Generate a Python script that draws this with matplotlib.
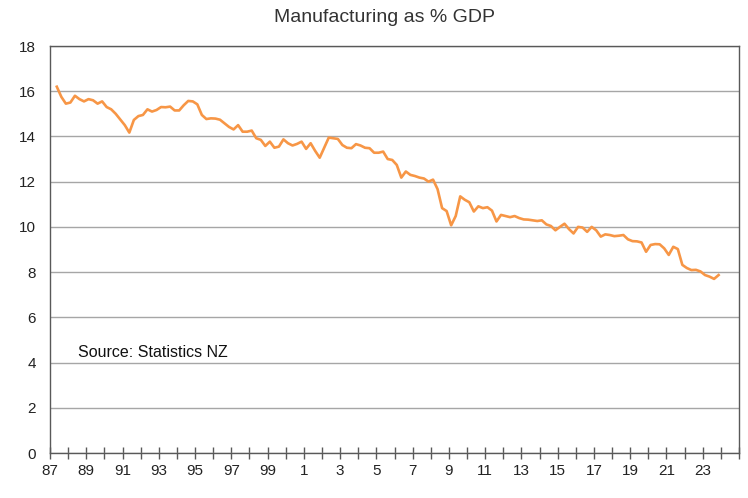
import numpy as np
import pandas as pd
import matplotlib.pyplot as plt

# quarterly manufacturing share of GDP (%), from 1987Q2
manuf_share = [
    16.2, 15.75, 15.45, 15.5, 15.8, 15.65, 15.55, 15.65, 15.6, 15.45,
    15.55, 15.3, 15.2, 15.0, 14.75, 14.5, 14.17, 14.73, 14.9, 14.95,
    15.2, 15.1, 15.17, 15.3, 15.29, 15.32, 15.15, 15.15, 15.38, 15.57,
    15.55, 15.42, 14.95, 14.77, 14.8, 14.79, 14.74, 14.58, 14.42, 14.31,
    14.5, 14.21, 14.21, 14.26, 13.92, 13.85, 13.58, 13.77, 13.5, 13.55,
    13.87, 13.7, 13.6, 13.67, 13.77, 13.45, 13.7, 13.36, 13.06, 13.5,
    13.95, 13.92, 13.89, 13.62, 13.5, 13.48, 13.66, 13.6, 13.5, 13.48,
    13.28, 13.28, 13.33, 13.0, 12.96, 12.74, 12.18, 12.45, 12.3, 12.25,
    12.18, 12.14, 12.0, 12.09, 11.67, 10.83, 10.7, 10.07, 10.48, 11.35,
    11.2, 11.09, 10.68, 10.91, 10.83, 10.87, 10.72, 10.24, 10.53, 10.48,
    10.43, 10.48, 10.39, 10.33, 10.32, 10.29, 10.26, 10.29, 10.11, 10.04,
    9.85, 10.0, 10.14, 9.9, 9.71, 10.0, 9.97, 9.78, 10.0, 9.85,
    9.57, 9.67, 9.64, 9.59, 9.61, 9.64, 9.45, 9.37, 9.36, 9.31,
    8.9, 9.2, 9.24, 9.23, 9.05, 8.76, 9.12, 9.02, 8.32, 8.18,
    8.09, 8.1, 8.03, 7.87, 7.8, 7.7, 7.87,
]
start_quarter = "1987Q2"
tick_years = list(range(1987, 2026))
label_years = list(range(1987, 2024, 2))
y_ticks = list(range(0, 19, 2))

quarters = pd.period_range(start_quarter, periods=len(manuf_share), freq="Q")
x = quarters.year + (quarters.quarter - 0.5) / 4

plt.rcParams["font.family"] = ["Liberation Sans", "DejaVu Sans"]

fig = plt.figure(figsize=(7.48, 4.98), dpi=100)
ax = fig.add_axes([50/748, 45/498, 689/748, 407/498])

ax.plot(x, manuf_share, color="#F79646", linewidth=1.9, solid_joinstyle="round")

ax.set_xlim(1987, 2025)
ax.set_ylim(0, 18)
ax.set_yticks(y_ticks)
ax.set_xticks(tick_years)
ax.set_xticklabels([str(y % 100) if y in label_years else "" for y in tick_years])
ax.yaxis.grid(True, color="#a6a6a6", linewidth=1)
ax.set_axisbelow(True)

for s in ax.spines.values():
    s.set_color("#595959")
    s.set_linewidth(1)

ax.tick_params(axis="x", direction="inout", length=8, width=1, color="#595959",
               labelsize=11, labelcolor="#222222", pad=4)
ax.tick_params(axis="y", length=0, labelsize=11, labelcolor="#222222", pad=10)

ax.text(0.041, 0.248, "Source: Statistics NZ", transform=ax.transAxes,
        fontsize=11.5, color="#111111", va="center", ha="left")

fig.text(385/748, 1 - 18/498, "Manufacturing as % GDP", fontsize=14,
         color="#333333", ha="center", va="center")

plt.savefig("out.png", dpi=100)
